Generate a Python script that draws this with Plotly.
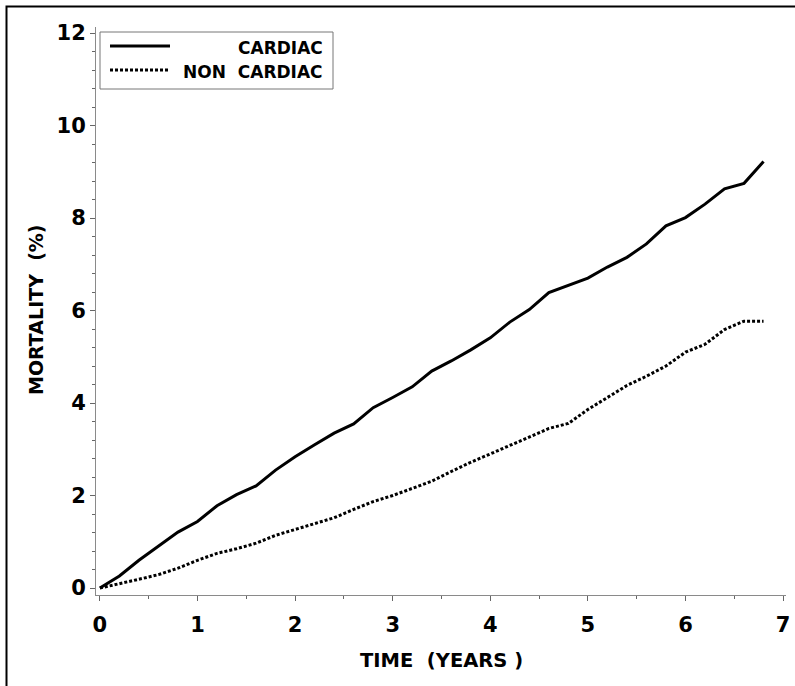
import plotly.graph_objects as go

# Data
time_years = [0.0, 0.2, 0.4, 0.6, 0.8, 1.0, 1.2, 1.4, 1.6, 1.8, 2.0, 2.2, 2.4, 2.6, 2.8,
              3.0, 3.2, 3.4, 3.6, 3.8, 4.0, 4.2, 4.4, 4.6, 4.8, 5.0, 5.2, 5.4, 5.6, 5.8,
              6.0, 6.2, 6.4, 6.6, 6.8]
cardiac = [0.0, 0.26, 0.6, 0.9, 1.21, 1.44, 1.78, 2.02, 2.21, 2.55, 2.84, 3.1, 3.35, 3.55, 3.9,
           4.12, 4.35, 4.69, 4.91, 5.15, 5.41, 5.75, 6.02, 6.39, 6.55, 6.7, 6.94, 7.15, 7.44, 7.83,
           8.01, 8.3, 8.63, 8.75, 9.22]
non_cardiac = [0.0, 0.09, 0.19, 0.29, 0.43, 0.6, 0.75, 0.85, 0.97, 1.14, 1.27, 1.39, 1.52, 1.7, 1.87,
               2.0, 2.15, 2.31, 2.52, 2.72, 2.9, 3.08, 3.26, 3.45, 3.56, 3.86, 4.12, 4.38, 4.58, 4.8,
               5.1, 5.27, 5.59, 5.77, 5.77]
series_names = ["CARDIAC", "NON CARDIAC"]
x_ticks = [0, 1, 2, 3, 4, 5, 6, 7]
y_ticks = [0, 2, 4, 6, 8, 10, 12]
x_title = "TIME\u00a0 (YEARS )"
y_title = "MORTALITY\u00a0 (%)"

W, H = 795, 686
L, R, T, B = 96, 786, 27, 595  # plot area in pixels
FONT = "DejaVu Sans, Verdana, sans-serif"


def px(xp):
    return (xp - L) / (R - L)


def py(yp):
    return (B - yp) / (B - T)


fig = go.Figure()
fig.add_trace(go.Scatter(x=time_years, y=cardiac, mode="lines", name=series_names[0],
                         line=dict(color="black", width=3, dash="solid"), showlegend=False))
fig.add_trace(go.Scatter(x=time_years, y=non_cardiac, mode="lines", name=series_names[1],
                         line=dict(color="black", width=3, dash="3px,2px"), showlegend=False))

axis_common = dict(
    showline=True, linecolor="#8a8a8a", linewidth=1,
    ticks="outside", ticklen=5, tickcolor="#666666", tickwidth=1,
    showgrid=False, zeroline=False, automargin=False,
    tickfont=dict(family=FONT, size=21, color="black", weight="bold"),
)

fig.update_xaxes(
    range=[-0.04, 7.03], tickvals=x_ticks, ticktext=[str(v) for v in x_ticks],
    ticklabelstandoff=6,
    minor=dict(dtick=0.5, tick0=0, ticks="outside", ticklen=3, tickcolor="#666666"),
    **axis_common,
)
fig.update_yaxes(
    range=[-0.15, 12.13], tickvals=y_ticks, ticktext=[str(v) for v in y_ticks],
    minor=dict(dtick=0.4, tick0=0, ticks="outside", ticklen=3, tickcolor="#666666"),
    **axis_common,
)

shapes = [
    # outer frame (top and left visible)
    dict(type="rect", xref="paper", yref="paper", x0=px(6.5), x1=px(W + 20), y0=py(H + 20), y1=py(6.5),
         line=dict(color="black", width=2), layer="below"),
    # legend box
    dict(type="rect", xref="paper", yref="paper", x0=px(100), x1=px(333), y0=py(89), y1=py(32),
         line=dict(color="#777777", width=1), fillcolor="white"),
    # legend samples
    dict(type="line", xref="paper", yref="paper", x0=px(110), x1=px(170), y0=py(46), y1=py(46),
         line=dict(color="black", width=3, dash="solid")),
    dict(type="line", xref="paper", yref="paper", x0=px(110), x1=px(170), y0=py(70), y1=py(70),
         line=dict(color="black", width=3, dash="3px,2px")),
]

annotations = [
    dict(xref="paper", yref="paper", x=px(325), y=py(48), text=series_names[0], showarrow=False,
         xanchor="right", yanchor="middle",
         font=dict(family=FONT, size=17, color="black", weight="bold")),
    dict(xref="paper", yref="paper", x=px(325), y=py(72), text="NON\u00a0 CARDIAC", showarrow=False,
         xanchor="right", yanchor="middle",
         font=dict(family=FONT, size=17, color="black", weight="bold")),
    # axis titles
    dict(xref="paper", yref="paper", x=px(441), y=py(660), text=x_title, showarrow=False,
         xanchor="center", yanchor="middle",
         font=dict(family=FONT, size=19.5, color="black", weight="bold")),
    dict(xref="paper", yref="paper", x=px(36), y=py(310), text=y_title, showarrow=False,
         xanchor="center", yanchor="middle", textangle=-90,
         font=dict(family=FONT, size=19, color="black", weight="bold")),
]

fig.update_layout(
    width=W, height=H,
    margin=dict(l=L, r=W - R, t=T, b=H - B, pad=0),
    paper_bgcolor="white", plot_bgcolor="white",
    shapes=shapes, annotations=annotations,
    showlegend=False,
)

fig.write_html("out.html",
               config={"displayModeBar": False},
               post_script="document.body.style.margin='0';document.body.style.overflow='hidden';")
